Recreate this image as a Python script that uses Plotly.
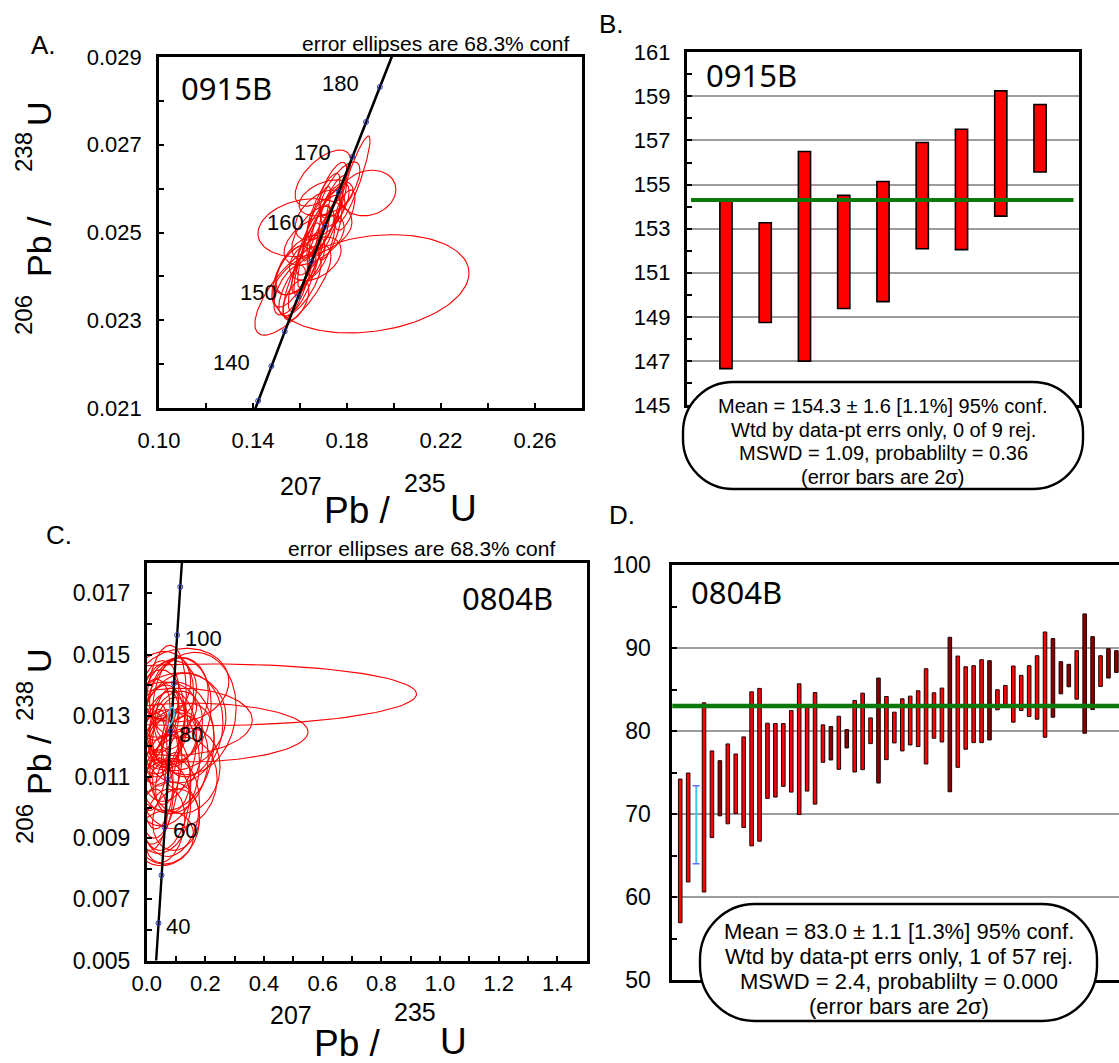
import numpy as np
import plotly.graph_objects as go

W, H = 1119, 1063

# ---------------- Panel A data (0915B concordia) ----------------
A_age = [130, 135, 140, 145, 150, 155, 160, 165, 170, 175, 180, 185]
A_pb207_u235 = [0.136588, 0.142198, 0.147837, 0.153503, 0.159197, 0.164919,
                0.170670, 0.176449, 0.182256, 0.188092, 0.193957, 0.199850]
A_pb206_u238 = [0.020371, 0.021163, 0.021955, 0.022748, 0.023542, 0.024336,
                0.025131, 0.025926, 0.026722, 0.027519, 0.028316, 0.029114]
A_marker_ages = [135, 140, 145, 150, 155, 160, 165, 170, 175, 180]
A_label_ages = [140, 150, 160, 170, 180]

A_ell_x = [0.1902, 0.1621, 0.1889, 0.1830, 0.1698, 0.1711, 0.1570, 0.1557, 0.1591, 0.1583,
           0.1677, 0.1706, 0.1651, 0.1685, 0.1728, 0.1625, 0.1749, 0.1660, 0.1600, 0.1770,
           0.1583, 0.1791, 0.1640, 0.1670, 0.1700, 0.1655, 0.1620, 0.1600, 0.1690, 0.1720,
           0.1560, 0.1740, 0.1665]
A_ell_y = [0.02383, 0.02511, 0.02590, 0.02622, 0.02624, 0.02579, 0.02369, 0.02369, 0.02385, 0.02415,
           0.02494, 0.02524, 0.02460, 0.02540, 0.02506, 0.02442, 0.02563, 0.02483, 0.02426, 0.02597,
           0.02346, 0.02551, 0.02470, 0.02520, 0.02560, 0.02500, 0.02410, 0.02380, 0.02470, 0.02540,
           0.02400, 0.02600, 0.02440]
A_ell_sx = [0.0417, 0.0200, 0.0119, 0.0068, 0.0119, 0.0115, 0.0162, 0.0068, 0.0064, 0.0085,
            0.0094, 0.0077, 0.0077, 0.0106, 0.0051, 0.0060, 0.0060, 0.0128, 0.0106, 0.0085,
            0.0055, 0.0043, 0.0050, 0.0060, 0.0070, 0.0090, 0.0070, 0.0090, 0.0060, 0.0080,
            0.0080, 0.0060, 0.0110]
A_ell_sy = [0.00112, 0.00066, 0.00052, 0.00098, 0.00064, 0.00041, 0.00103, 0.00057, 0.00080, 0.00057,
            0.00091, 0.00080, 0.00103, 0.00057, 0.00068, 0.00080, 0.00050, 0.00057, 0.00068, 0.00064,
            0.00046, 0.00046, 0.00095, 0.00085, 0.00075, 0.00060, 0.00090, 0.00070, 0.00070, 0.00090,
            0.00070, 0.00060, 0.00050]
A_ell_rho = [0.22, 0.20, 0.15, 0.90, 0.60, 0.40, 0.75, 0.60, 0.80, 0.50,
             0.80, 0.85, 0.85, 0.50, 0.70, 0.80, 0.60, 0.50, 0.60, 0.70,
             0.50, 0.60, 0.85, 0.85, 0.80, 0.60, 0.80, 0.70, 0.70, 0.85,
             0.60, 0.70, 0.40]

# ---------------- Panel B data (0915B weighted mean) ----------------
B_grain = [1, 2, 3, 4, 5, 6, 7, 8, 9]
B_high = [154.24, 153.27, 156.50, 154.51, 155.14, 156.91, 157.51, 159.25, 158.63]
B_low = [146.65, 148.74, 146.99, 149.38, 149.69, 152.09, 152.05, 153.57, 155.57]
B_mean = 154.3
B_text = ["Mean = 154.3 ± 1.6 [1.1%] 95% conf.",
          "Wtd by data-pt errs only, 0 of 9 rej.",
          "MSWD = 1.09, probablilty = 0.36",
          "(error bars are 2σ)"]

# ---------------- Panel C data (0804B concordia) ----------------
C_age = [30, 40, 50, 60, 70, 80, 90, 100, 110, 120]
C_pb207_u235 = [0.029986, 0.040180, 0.050475, 0.060872, 0.071371, 0.081975,
                0.092683, 0.103498, 0.114420, 0.125452]
C_pb206_u238 = [0.0046646, 0.006224, 0.0077864, 0.0093509, 0.010918, 0.012487,
                0.014059, 0.015633, 0.017210, 0.018789]
C_marker_ages = [40, 50, 60, 70, 80, 90, 100, 110]
C_label_ages = [40, 60, 80, 100]

C_ell_x = [0.20, 0.15, 0.10, 0.15, 0.065, 0.10, 0.12, 0.05, 0.07, 0.09,
           0.04, 0.06, 0.08, 0.07, 0.03, 0.11, 0.13, 0.02, 0.04, 0.06,
           0.08, 0.03, 0.05, 0.07, 0.09, 0.10, 0.02, 0.04, 0.06, 0.08,
           0.05, 0.11, 0.03, 0.07, 0.09, 0.12, 0.02, 0.10, 0.14, 0.05,
           0.06, 0.12, 0.10, 0.08, 0.06, 0.05, 0.09, 0.04]
C_ell_y = [0.01368, 0.01245, 0.01280, 0.01307, 0.0133, 0.0132, 0.0126, 0.0125, 0.0120, 0.0115,
           0.0110, 0.0105, 0.0100, 0.0095, 0.0102, 0.0108, 0.0112, 0.0130, 0.0135, 0.0128,
           0.0125, 0.0120, 0.0118, 0.0113, 0.0122, 0.0126, 0.0115, 0.0106, 0.0094, 0.0138,
           0.0140, 0.0136, 0.0125, 0.0131, 0.0108, 0.0118, 0.0096, 0.0096, 0.0122, 0.0132,
           0.0090, 0.0140, 0.0128, 0.0120, 0.0113, 0.0100, 0.0134, 0.0128]
C_ell_sx = [0.72, 0.40, 0.26, 0.155, 0.07, 0.12, 0.14, 0.08, 0.10, 0.12,
            0.07, 0.09, 0.10, 0.11, 0.06, 0.13, 0.12, 0.06, 0.07, 0.05,
            0.06, 0.05, 0.06, 0.05, 0.08, 0.09, 0.05, 0.05, 0.07, 0.09,
            0.10, 0.10, 0.04, 0.04, 0.06, 0.07, 0.05, 0.08, 0.09, 0.12,
            0.10, 0.16, 0.17, 0.15, 0.12, 0.10, 0.07, 0.09]
C_ell_sy = [0.00101, 0.00096, 0.00110, 0.00200, 0.0020, 0.0017, 0.0018, 0.0015, 0.0018, 0.0017,
            0.0020, 0.0019, 0.0016, 0.00135, 0.0014, 0.0015, 0.0014, 0.0012, 0.0013, 0.0010,
            0.0011, 0.0012, 0.0011, 0.0012, 0.0009, 0.0012, 0.0016, 0.0013, 0.0012, 0.0010,
            0.0011, 0.0013, 0.0009, 0.0008, 0.0010, 0.0012, 0.0010, 0.0010, 0.0012, 0.0009,
            0.0009, 0.0012, 0.0016, 0.0021, 0.0019, 0.0015, 0.0015, 0.0017]
C_ell_rho = [0.03, 0.02, 0.05, 0.10, 0.20, 0.10, 0.10, 0.20, 0.15, 0.10,
             0.20, 0.15, 0.10, 0.10, 0.20, 0.10, 0.10, 0.20, 0.20, 0.30,
             0.30, 0.20, 0.20, 0.30, 0.20, 0.20, 0.20, 0.20, 0.20, 0.10,
             0.10, 0.10, 0.30, 0.30, 0.20, 0.20, 0.20, 0.10, 0.10, 0.10,
             0.10, 0.10, 0.10, 0.10, 0.10, 0.10, 0.20, 0.10]
C_mean_ell = dict(x=0.082, y=0.01298, sx=0.012, sy=0.00030, rho=0.5)

# ---------------- Panel D data (0804B weighted mean) ----------------
D_grain = list(range(1, 58))
D_high = [74.21, 74.94, 73.41, 83.40, 77.60, 76.43, 78.44, 77.23, 79.29, 84.72,
          85.13, 80.94, 80.90, 80.90, 82.47, 85.69, 82.99, 84.64, 80.74, 80.54,
          81.78, 80.17, 83.68, 84.56, 81.58, 86.38, 84.16, 82.27, 83.88, 84.20,
          84.85, 87.50, 84.60, 85.17, 91.29, 89.03, 87.74, 87.87, 88.59, 88.47,
          84.97, 85.49, 87.83, 86.70, 87.87, 89.07, 91.93, 91.13, 88.35, 88.03,
          89.68, 94.11, 91.37, 89.07, 89.92, 89.68, 88.60]
D_low = [56.90, 61.81, 64.02, 60.60, 67.16, 69.78, 68.82, 70.06, 68.37, 66.16,
         66.72, 71.88, 72.04, 73.33, 72.64, 69.94, 72.76, 71.19, 76.23, 76.51,
         75.38, 77.96, 75.06, 75.34, 78.48, 73.73, 76.55, 78.56, 77.60, 78.32,
         78.12, 76.03, 79.13, 78.68, 72.68, 75.62, 77.80, 78.60, 78.60, 78.92,
         82.55, 83.03, 81.06, 82.47, 81.74, 81.42, 79.25, 81.66, 84.48, 85.33,
         83.84, 79.73, 82.59, 85.37, 86.38, 87.06, 86.00]
D_rejected = [3]
D_dark = [6, 20, 22, 26, 35, 40, 48, 49, 50, 52, 53, 55, 56]
D_mean = 83.0
D_text = ["Mean = 83.0 ± 1.1 [1.3%] 95% conf.",
          "Wtd by data-pt errs only, 1 of 57 rej.",
          "MSWD = 2.4, probablilty = 0.000",
          "(error bars are 2σ)"]

# ---------------- helpers ----------------
FONT = "Liberation Sans, Arial, sans-serif"
IDFONT = "Noto Sans, Open Sans, sans-serif"


def ellipses(xs, ys, sxs, sys_, rhos, n=120):
    ox, oy = [], []
    t = np.linspace(0, 2 * np.pi, n)
    for cx, cy, sx, sy, r in zip(xs, ys, sxs, sys_, rhos):
        ex = cx + sx * np.cos(t)
        ey = cy + sy * (r * np.cos(t) + np.sqrt(1 - r * r) * np.sin(t))
        ox += list(ex) + [None]
        oy += list(ey) + [None]
    return ox, oy


def dx(p0, p1):
    return [p0 / W, min(p1 / W, 1.0)]


def dy(top, bottom):
    return [1 - bottom / H, 1 - top / H]


def pax(px):
    return px / W


def pay(py):
    return 1 - py / H


annotations = []


def ann(text, px, py, size, family=FONT, xanchor="center", angle=0, color="black"):
    annotations.append(dict(text=text, x=pax(px), y=pay(py), xref="paper", yref="paper",
                            xanchor=xanchor, yanchor="middle", showarrow=False,
                            textangle=angle, font=dict(size=size, family=family, color=color)))


def stadium(x0, y0, x1, y1, r):
    k = 0.5523 * r
    pts = [("M", [(x0 + r, y0)]), ("L", [(x1 - r, y0)]),
           ("C", [(x1 - r + k, y0), (x1, y0 + r - k), (x1, y0 + r)]),
           ("L", [(x1, y1 - r)]),
           ("C", [(x1, y1 - r + k), (x1 - r + k, y1), (x1 - r, y1)]),
           ("L", [(x0 + r, y1)]),
           ("C", [(x0 + r - k, y1), (x0, y1 - r + k), (x0, y1 - r)]),
           ("L", [(x0, y0 + r)]),
           ("C", [(x0, y0 + r - k), (x0 + r - k, y0), (x0 + r, y0)])]
    s = ""
    for cmd, ps in pts:
        s += cmd + " " + " ".join(f"{pax(a):.5f},{pay(b):.5f}" for a, b in ps) + " "
    return s + "Z"


fig = go.Figure()

# ---------------- Panel A traces ----------------
ex, ey = ellipses(A_ell_x, A_ell_y, A_ell_sx, A_ell_sy, A_ell_rho)
fig.add_trace(go.Scatter(x=ex, y=ey, mode="lines", line=dict(color="#ff0000", width=1.1),
                         xaxis="x", yaxis="y", hoverinfo="skip"))
fig.add_trace(go.Scatter(x=A_pb207_u235, y=A_pb206_u238, mode="lines",
                         line=dict(color="black", width=2.6), xaxis="x", yaxis="y"))
mi = [A_age.index(a) for a in A_marker_ages]
fig.add_trace(go.Scatter(x=[A_pb207_u235[i] for i in mi], y=[A_pb206_u238[i] for i in mi],
                         mode="markers", marker=dict(symbol="circle-open", size=5, color="#2a3cc0",
                                                     line=dict(width=1)),
                         xaxis="x", yaxis="y"))
for a in A_label_ages:
    i = A_age.index(a)
    annotations.append(dict(text=str(a), x=A_pb207_u235[i], y=A_pb206_u238[i], xref="x", yref="y",
                            xanchor="right", yanchor="middle", xshift=-19, yshift=4, showarrow=False,
                            font=dict(size=22, family=FONT, color="black")))

# ---------------- Panel B traces ----------------
fig.add_trace(go.Bar(x=B_grain, y=[h - l for h, l in zip(B_high, B_low)], base=B_low, width=0.31,
                     marker=dict(color="#ff0000", line=dict(color="black", width=1.6)),
                     xaxis="x2", yaxis="y2"))

# ---------------- Panel C traces ----------------
ex, ey = ellipses(C_ell_x, C_ell_y, C_ell_sx, C_ell_sy, C_ell_rho)
fig.add_trace(go.Scatter(x=ex, y=ey, mode="lines", line=dict(color="#ff0000", width=1.1),
                         xaxis="x3", yaxis="y3", hoverinfo="skip"))
fig.add_trace(go.Scatter(x=C_pb207_u235, y=C_pb206_u238, mode="lines",
                         line=dict(color="black", width=2.4), xaxis="x3", yaxis="y3"))
mx, my = ellipses([C_mean_ell["x"]], [C_mean_ell["y"]], [C_mean_ell["sx"]], [C_mean_ell["sy"]],
                  [C_mean_ell["rho"]])
fig.add_trace(go.Scatter(x=mx, y=my, mode="lines", line=dict(color="#39c6ee", width=1.5),
                         xaxis="x3", yaxis="y3"))
mi = [C_age.index(a) for a in C_marker_ages]
fig.add_trace(go.Scatter(x=[C_pb207_u235[i] for i in mi], y=[C_pb206_u238[i] for i in mi],
                         mode="markers", marker=dict(symbol="circle-open", size=5, color="#2a3cc0",
                                                     line=dict(width=1)),
                         xaxis="x3", yaxis="y3"))
for a in C_label_ages:
    i = C_age.index(a)
    annotations.append(dict(text=str(a), x=C_pb207_u235[i], y=C_pb206_u238[i], xref="x3", yref="y3",
                            xanchor="left", yanchor="middle", xshift=6, yshift=-3, showarrow=False,
                            font=dict(size=22, family=FONT, color="black")))

# ---------------- Panel D traces ----------------
acc = [g for g in D_grain if g not in D_rejected]
fig.add_trace(go.Bar(x=acc, y=[D_high[g - 1] - D_low[g - 1] for g in acc],
                     base=[D_low[g - 1] for g in acc], width=0.45,
                     marker=dict(color=["#8a0000" if g in D_dark else "#ff0000" for g in acc],
                                 line=dict(color="#1a0000", width=1)),
                     xaxis="x4", yaxis="y4"))
fig.add_trace(go.Bar(x=D_rejected, y=[D_high[g - 1] - D_low[g - 1] for g in D_rejected],
                     base=[D_low[g - 1] for g in D_rejected], width=0.2,
                     marker=dict(color="#3cc8f0", line=dict(width=0)),
                     xaxis="x4", yaxis="y4"))
fig.add_trace(go.Scatter(x=D_rejected * 2, y=[D_low[g - 1] for g in D_rejected] + [D_high[g - 1] for g in D_rejected],
                         mode="markers", marker=dict(symbol="line-ew-open", size=5,
                                                     line=dict(color="#9a9a9a", width=1.5)),
                         xaxis="x4", yaxis="y4"))

# ---------------- axes ----------------
axcommon = dict(showline=True, linecolor="black", linewidth=2.6, mirror=True, zeroline=False,
                showgrid=False, automargin=False, tickcolor="black", tickwidth=2,
                tickfont=dict(size=22, family=FONT, color="black"))

layout = dict(width=W, height=H, margin=dict(l=0, r=0, t=0, b=0), paper_bgcolor="white",
              plot_bgcolor="white", showlegend=False, barmode="overlay")

layout["xaxis"] = dict(axcommon, domain=dx(159, 582), range=[0.10, 0.28], anchor="y",
                       ticks="inside", ticklen=5, tick0=0.10, dtick=0.04, tickformat=".2f",
                       ticklabelstandoff=11,
                       minor=dict(dtick=0.02, ticks="inside", ticklen=5, tickwidth=2, tickcolor="black"))
layout["yaxis"] = dict(axcommon, domain=dy(57, 408), range=[0.021, 0.029], anchor="x",
                       ticks="inside", ticklen=5, tick0=0.021, dtick=0.002, tickformat=".3f",
                       ticklabelstandoff=10,
                       minor=dict(dtick=0.001, ticks="inside", ticklen=5, tickwidth=2, tickcolor="black"))

layout["xaxis2"] = dict(axcommon, domain=dx(686.7, 1079.3), range=[0, 10], anchor="y2",
                        ticks="", showticklabels=False)
layout["yaxis2"] = dict(axcommon, domain=dy(52.3, 405), range=[145, 161], anchor="x2",
                        ticks="inside", ticklen=5, tick0=145, dtick=2, showgrid=True,
                        gridcolor="#9c9c9c", gridwidth=2, ticklabelstandoff=9,
                        minor=dict(dtick=1, ticks="inside", ticklen=5, tickwidth=2, tickcolor="black"))

layout["xaxis3"] = dict(axcommon, domain=dx(146.7, 586.7), range=[0, 1.5], anchor="y3",
                        ticks="inside", ticklen=5, tick0=0, dtick=0.2, tickformat=".1f",
                        ticklabelstandoff=1,
                        minor=dict(dtick=0.1, ticks="inside", ticklen=5, tickwidth=2, tickcolor="black"))
layout["yaxis3"] = dict(axcommon, domain=dy(562.7, 960.5), range=[0.005, 0.018], anchor="x3",
                        ticks="inside", ticklen=5, tick0=0.005, dtick=0.002, tickformat=".3f",
                        ticklabelstandoff=9,
                        tickfont=dict(size=23, family=FONT, color="black"),
                        minor=dict(dtick=0.001, ticks="inside", ticklen=5, tickwidth=2, tickcolor="black"))

layout["xaxis4"] = dict(axcommon, domain=dx(672.3, 1119), range=[0, 56.33], anchor="y4",
                        ticks="", showticklabels=False)
layout["yaxis4"] = dict(axcommon, domain=dy(565, 980), range=[50, 100], anchor="x4", mirror=False,
                        ticks="inside", ticklen=5, tick0=50, dtick=10, showgrid=True,
                        gridcolor="#9c9c9c", gridwidth=2, ticklabelstandoff=14,
                        tickfont=dict(size=23, family=FONT, color="black"),
                        minor=dict(dtick=5, ticks="inside", ticklen=5, tickwidth=2, tickcolor="black"))

# ---------------- shapes: mean lines and stats boxes ----------------
shapes = [
    dict(type="line", xref="x2 domain", yref="y2", x0=0.011, x1=0.985, y0=B_mean, y1=B_mean,
         line=dict(color="#0b780b", width=4)),
    dict(type="line", xref="x4 domain", yref="y4", x0=0.0, x1=1.0, y0=D_mean, y1=D_mean,
         line=dict(color="#0b780b", width=4.5)),
    dict(type="path", xref="paper", yref="paper", path=stadium(683, 382, 1083, 489, 50),
         fillcolor="white", line=dict(color="black", width=2.4), layer="above"),
    dict(type="path", xref="paper", yref="paper", path=stadium(700, 904, 1097, 1021, 55),
         fillcolor="white", line=dict(color="black", width=2.4), layer="above"),
]
layout["shapes"] = shapes

# ---------------- text ----------------
for i, t in enumerate(B_text):
    ann(t, 883, 406 + 23.6 * i, 20)
for i, t in enumerate(D_text):
    ann(t, 899, 931 + 25.3 * i, 22)

ann("0915B", 227, 88, 31, IDFONT)
ann("0915B", 751, 75, 31, IDFONT)
ann("0804B", 507, 598, 31, IDFONT)
ann("0804B", 736, 592, 31, IDFONT)

ann("A.", 43, 45, 26)
ann("B.", 611, 24, 26)
ann("C.", 59, 535, 26)
ann("D.", 622, 515, 26)

ann("error ellipses are 68.3% conf", 435, 44, 21)
ann("error ellipses are 68.3% conf", 421, 548, 21)

# x-axis titles (A and C)
for (sx0, by, sy_) in [(278, 510, 486), (268, 1043, 1015)]:
    ann("207", sx0, sy_, 25, xanchor="left")
    ann("Pb /", sx0 + 44, by, 37, xanchor="left")
    ann("235", sx0 + 124, sy_ - 3, 25, xanchor="left")
    ann("U", sx0 + 170, by - 2, 37, xanchor="left")

# y-axis titles (A and C), rotated; (206, Pb /, 238, U) centre heights
for (ys, xs, xb) in [((315, 247, 152, 114), 23, 39), ((824, 765, 701, 661), 24, 39)]:
    ann("206", xs, ys[0], 24, angle=-90)
    ann("Pb /", xb, ys[1], 34, angle=-90)
    ann("238", xs, ys[2], 24, angle=-90)
    ann("U", xb, ys[3], 34, angle=-90)

layout["annotations"] = annotations
fig.update_layout(**layout)

fig.write_html("out.html", config={"displayModeBar": False})
